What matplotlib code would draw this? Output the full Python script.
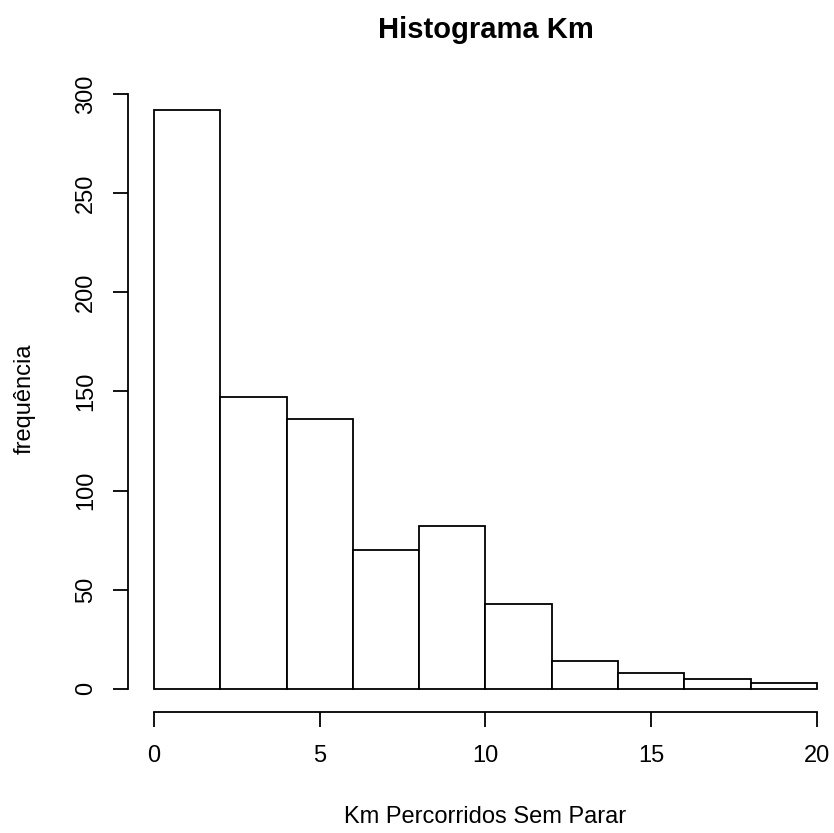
import numpy as np
import matplotlib.pyplot as plt

plt.rcParams['font.family'] = ['Liberation Sans', 'DejaVu Sans']

bin_edges = [0, 2, 4, 6, 8, 10, 12, 14, 16, 18, 20]
counts = [292, 147, 136, 70, 82, 43, 14, 8, 5, 3]
x_ticks = [0, 5, 10, 15, 20]
y_ticks = [0, 50, 100, 150, 200, 250, 300]

W, H = 834, 833
fig = plt.figure(figsize=(W / 100, H / 100), dpi=100)

# plot region in pixels (R style, 4% extension)
left, right, bottom, top = 127.5, 843.5, 712, 86.7
ax = fig.add_axes([left / W, 1 - bottom / H, (right - left) / W, (bottom - top) / H])
ax.set_xlim(-0.8, 20.8)
ax.set_ylim(-11.68, 303.68)

lw = 1.3
ax.bar(bin_edges[:-1], counts, width=np.diff(bin_edges), align='edge',
       color='white', edgecolor='black', linewidth=lw)

for s in ['top', 'right']:
    ax.spines[s].set_visible(False)
ax.spines['left'].set_bounds(0, 300)
ax.spines['bottom'].set_bounds(0, 20)
ax.spines['left'].set_linewidth(lw)
ax.spines['bottom'].set_linewidth(lw)

ax.set_xticks(x_ticks)
ax.set_yticks(y_ticks)
ax.set_yticklabels([str(v) for v in y_ticks], rotation=90, va='center')
ax.tick_params(axis='both', length=11, width=lw, labelsize=17, direction='out')
ax.tick_params(axis='x', pad=13)
ax.tick_params(axis='y', pad=11)

fig.text(485.5 / W, 1 - 30 / H, 'Histograma Km', ha='center', va='center',
         fontsize=21, fontweight='bold')
fig.text(485.5 / W, 1 - 817 / H, 'Km Percorridos Sem Parar', ha='center',
         va='center', fontsize=17)
fig.text(25 / W, 1 - 399 / H, 'frequência', ha='center', va='center',
         rotation=90, fontsize=17)

fig.savefig('out.png', dpi=100)
